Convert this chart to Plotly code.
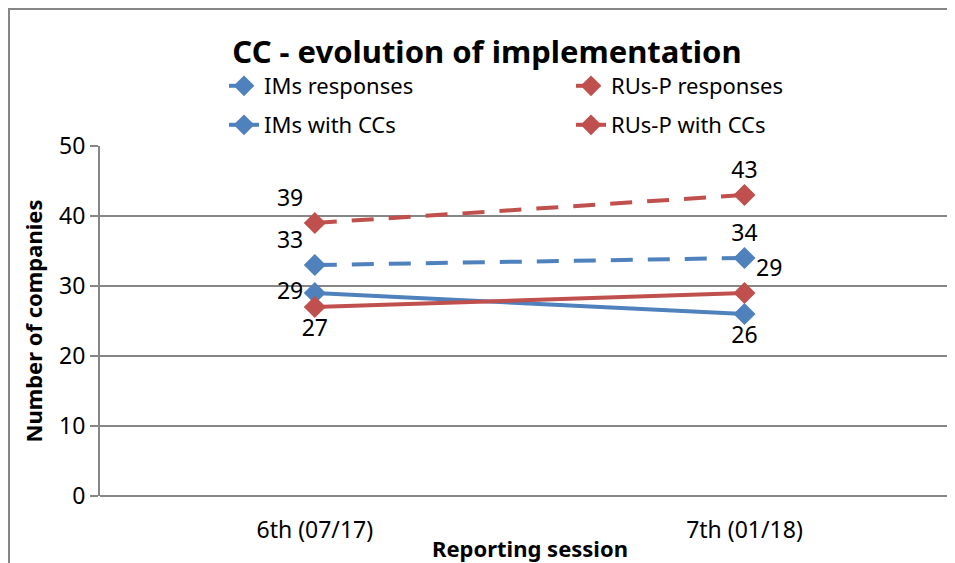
import plotly.graph_objects as go

sessions = ["6th (07/17)", "7th (01/18)"]
ims_responses = [33, 34]
rus_responses = [39, 43]
ims_with_ccs = [29, 26]
rus_with_ccs = [27, 29]

BLUE = "#4F81BD"
RED = "#C0504D"
FONT = "Noto Sans"
DASH = "22px,15px"

fig = go.Figure()

def add(name, y, color, dash, pos, legend):
    fig.add_trace(go.Scatter(
        x=sessions, y=y, name=name, mode="lines+markers+text",
        line=dict(color=color, width=4, dash=dash),
        marker=dict(symbol="diamond", size=17, color=color),
        text=[str(v) for v in y], textposition=pos,
        textfont=dict(family=FONT, size=23, color="black"),
        legend=legend, cliponaxis=False, showlegend=True,
    ))

add("IMs responses", ims_responses, BLUE, DASH, ["top left", "top center"], "legend")
add("RUs-P responses", rus_responses, RED, DASH, ["top left", "top center"], "legend2")
add("IMs with CCs", ims_with_ccs, BLUE, "solid", ["middle left", "bottom center"], "legend3")
add("RUs-P with CCs", rus_with_ccs, RED, "solid", ["bottom center", "top right"], "legend4")

W, H = 947, 555
L, R, T, B = 92, 0, 138, 67
PW, PH = W - L - R, H - T - B

def px_x(x):
    return (x - 8 - L) / PW

def px_y(y):
    return (H - B - (y - 8)) / PH

def leg(text_x, y):
    return dict(x=px_x(text_x - 41), y=px_y(y), xanchor="left", yanchor="middle",
                orientation="h", font=dict(family=FONT, size=22, color="black"),
                bgcolor="rgba(0,0,0,0)")

frame = dict(color="#868686", width=2)
fig.update_layout(
    width=W, height=H,
    margin=dict(l=L, r=R, t=T, b=B),
    paper_bgcolor="white", plot_bgcolor="white",
    showlegend=True,
    font=dict(family=FONT, size=22, color="black"),
    title=dict(text="<b>CC - evolution of implementation</b>", x=px_x(487), xref="paper",
               xanchor="center", y=1 - 44 / H, yref="container", yanchor="middle",
               font=dict(family=FONT, size=31, color="black")),
    legend=leg(265, 86),
    legend2=leg(612, 86),
    legend3=leg(265, 125),
    legend4=leg(612, 125),
    xaxis=dict(type="category", range=[-0.5, 1.49], showgrid=False,
               showline=False, ticks="", tickfont=dict(size=23), ticklabelstandoff=18),
    yaxis=dict(range=[0, 50], dtick=10, showgrid=True, gridcolor="#868686", gridwidth=2,
               showline=True, linecolor="#868686", linewidth=2,
               ticks="outside", ticklen=8, tickcolor="#868686", tickwidth=2,
               tickfont=dict(size=23), zeroline=True, zerolinecolor="#868686", zerolinewidth=2,
               title=dict(text="<b>Number of companies</b>", font=dict(size=22), standoff=10)),
    annotations=[
        dict(text="<b>Reporting session</b>", xref="paper", yref="paper",
             x=px_x(530), y=px_y(548), xanchor="center", yanchor="middle",
             showarrow=False, font=dict(family=FONT, size=22, color="black")),
    ],
    shapes=[
        dict(type="line", xref="paper", yref="paper", x0=px_x(9), x1=px_x(9),
             y0=-0.3, y1=px_y(9), line=frame),
        dict(type="line", xref="paper", yref="paper", x0=px_x(8), x1=1.05,
             y0=px_y(9), y1=px_y(9), line=frame),
    ],
)

fig.write_html("out.html")
